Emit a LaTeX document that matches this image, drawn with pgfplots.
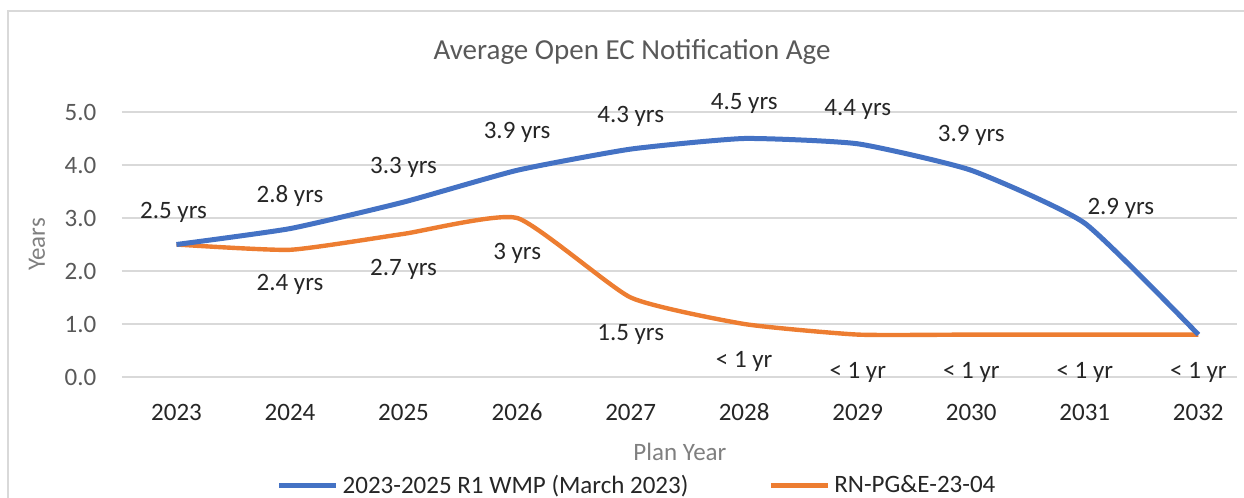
\documentclass[border=0pt]{standalone}
\usepackage{fontspec}
\setmainfont{Carlito}
\usepackage{pgfplots}
\pgfplotsset{compat=1.18}

\definecolor{xlblue}{HTML}{4472C4}
\definecolor{xlorange}{HTML}{ED7D31}
\definecolor{titlegray}{HTML}{595959}
\definecolor{axgray}{HTML}{7F7F7F}
\definecolor{lblgray}{HTML}{262626}
\definecolor{gridgray}{HTML}{D9D9D9}

\begin{document}
\begin{tikzpicture}[font=\fontsize{12.5}{15}\selectfont]
\path[use as bounding box] (-61pt,-60.5pt) rectangle (561pt,188.5pt);
\draw[gridgray, line width=0.8pt] (-57pt,-80pt) -- (-57pt,183pt) -- (562pt,183pt);
\begin{axis}[
    scale only axis,
    width=557.5pt, height=132.5pt,
    xmin=2022.52, xmax=2032.34,
    ymin=0, ymax=5,
    xtick={2023,...,2032},
    ytick={0,1,...,5},
    axis line style={draw=none},
    major tick length=0pt,
    ymajorgrids,
    grid style={gridgray, line width=0.8pt},
    clip=false,
    /pgf/number format/assume math mode=true,
    x tick label style={/pgf/number format/1000 sep={}, anchor=center, yshift=-17.5pt, text=lblgray},
    y tick label style={/pgf/number format/.cd, fixed, fixed zerofill, precision=1, /tikz/.cd, anchor=east, xshift=-9.3pt, text=titlegray},
    title={Average Open EC Notification Age},
    every axis title shift=0pt,
    title style={at={(axis description cs:0.4574,1.2264)}, anchor=center, font=\fontsize{14.5}{17}\selectfont, text=titlegray},
    xlabel={Plan Year},
    xlabel style={at={(axis description cs:0.5004,-0.283)}, anchor=center, text=axgray},
    ylabel={Years},
    ylabel style={at={(axis description cs:-0.0762,0.5)}, anchor=center, text=axgray},
    legend style={at={(axis description cs:0.4628,-0.411)}, anchor=center, draw=none, fill=none,
        legend columns=2, text=lblgray,
        /tikz/every even column/.append style={column sep=38pt}},
    legend image code/.code={\draw[#1, line width=2.5pt] (0pt,0pt) -- (28.5pt,0pt);},
    reverse legend,
]
% orange first so the blue line sits on top, as in the original
\addplot[xlorange, line width=2.2pt, smooth, tension=0.3] coordinates {
    (2023,2.5) (2024,2.4) (2025,2.7) (2026,3.0) (2027,1.5)
    (2028,1.0) (2029,0.8) (2030,0.8) (2031,0.8) (2032,0.8)
};
\addlegendentry{RN-PG\&E-23-04}
\addplot[xlblue, line width=2.5pt, smooth, tension=0.3] coordinates {
    (2023,2.5) (2024,2.8) (2025,3.3) (2026,3.9) (2027,4.3)
    (2028,4.5) (2029,4.4) (2030,3.9) (2031,2.9) (2032,0.8)
};
\addlegendentry{2023-2025 R1 WMP (March 2023)}

% data labels
\addplot[draw=none, forget plot, nodes near coords, point meta=explicit symbolic,
    visualization depends on={\thisrow{dx} \as \labdx},
    visualization depends on={\thisrow{dy} \as \labdy},
    every node near coord/.append style={anchor=center, xshift=\labdx pt, yshift=\labdy pt, text=lblgray}]
    table[col sep=comma, meta=lab] {
x,y,dx,dy,lab
2023,2.5,-1.5,16,2.5 yrs
2024,2.8,0,16.3,2.8 yrs
2025,3.3,0,17.5,3.3 yrs
2026,3.9,0,19,3.9 yrs
2027,4.3,0,16.5,4.3 yrs
2028,4.5,0,17.7,4.5 yrs
2029,4.4,0,17.4,4.4 yrs
2030,3.9,0,17.6,3.9 yrs
2031,2.9,18,7.6,2.9 yrs
2024,2.4,0,-17.5,2.4 yrs
2025,2.7,0,-18,2.7 yrs
2026,3.0,0,-17.5,3 yrs
2027,1.5,0,-18.7,1.5 yrs
2028,1.0,0,-18.5,< 1 yr
2029,0.8,0,-18.8,< 1 yr
2030,0.8,0,-18.8,< 1 yr
2031,0.8,0,-18.8,< 1 yr
2032,0.8,0,-18.8,< 1 yr
};
\end{axis}
\end{tikzpicture}
\end{document}
